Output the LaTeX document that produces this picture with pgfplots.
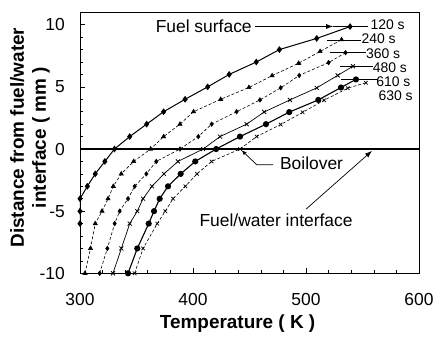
\documentclass[border=0pt]{standalone}
\usepackage{fontspec}
\setmainfont{Liberation Sans}
\usepackage{pgfplots}
\pgfplotsset{compat=1.18}
\usetikzlibrary{arrows.meta}
\begin{document}
\begin{tikzpicture}
\useasboundingbox (-80bp,-65.7bp) rectangle (355bp,273.3bp);
\begin{axis}[
  at={(0,0)}, anchor=south west,
  scale only axis, width=339bp, height=261bp,
  xmin=300, xmax=600, ymin=-10, ymax=11,
  xtick={300,400,500,600}, ytick={-10,-5,0,5,10},
  minor x tick num=4, minor y tick num=4,
  tick align=inside, xtick pos=bottom, ytick pos=left,
  major tick length=5bp, minor tick length=3bp,
  axis line style={line width=0.9bp},
  tick style={black, line width=0.6bp},
  /pgf/number format/assume math mode=true,
  ticklabel style={font=\fontsize{17.5}{20}\selectfont},
  xticklabel style={anchor=base, yshift=-31.7bp},
  yticklabel style={anchor=east, inner sep=0pt, xshift=-15bp},
  xlabel={Temperature ( K )},
  xlabel style={font=\fontsize{19}{22}\selectfont\bfseries, at={(axis description cs:0.465,0)}, anchor=base, yshift=-54.7bp},
  ylabel={Distance from fuel/water\\interface ( mm )},
  ylabel style={font=\fontsize{19}{22}\selectfont\bfseries, align=center, at={(axis description cs:-0.1475,0.52)}, anchor=center, rotate=0},
  clip=true,
]
% zero line
\addplot[black, line width=1.1bp] coordinates {(300,0) (600,0)};
% 120 s
\addplot[black, line width=1bp, mark=diamond*, mark size=2.6bp] coordinates {
(300,-6)(300,-5)(300,-4)(306.5,-3)(313.5,-2)(322,-1)(330.5,0)(344,1)(359,2)(374,3)(393,4)(413,5)(432,6)(456,7)(476.5,8)(509.5,8.9)(539,9.85)};
% 240 s
\addplot[black, line width=0.6bp, densely dashed, mark=triangle*, mark size=2.4bp, mark options={solid}] coordinates {
(304.4,-10)(309.3,-8)(313.5,-6)(319.5,-5)(324.8,-4)(329.5,-3)(336.5,-2)(347.5,-1)(362.5,0)(374,1)(388.5,2)(400.5,3)(424.5,4)(449.5,4.95)(470,5.9)(493.5,6.9)(512.5,7.85)(531.5,8.8)};
% 360 s
\addplot[black, line width=0.6bp, densely dashed, mark=diamond*, mark size=2.2bp, mark options={solid}] coordinates {
(317.4,-10)(324.2,-8)(330.7,-6)(335.1,-5)(342.5,-4)(348.4,-3)(358.7,-2)(367.5,-1)(388.5,0)(404.7,1)(416.5,2)(438.6,3)(459.3,3.95)(477.6,4.92)(494,5.92)(520,6.95)(535,7.75)};
% 480 s
\addplot[black, line width=0.7bp, mark=x, mark size=2.8bp, mark options={line width=0.8bp}] coordinates {
(329.2,-10)(336.6,-8)(344,-6)(350.7,-5)(355.8,-4)(363.7,-3)(374.3,-2)(386.7,-1)(409,0)(423.9,1)(447.5,2)(463,2.98)(485.8,3.95)(509.5,4.92)(528,5.92)(541.6,6.66)};
% 610 s
\addplot[black, line width=1.1bp, mark=*, mark size=2.5bp] coordinates {
(342.5,-10)(350.7,-8)(360.8,-6)(365.5,-5)(370.5,-4)(377.9,-3)(389.1,-2)(402,-1)(420.5,0)(441.6,1)(464.6,2)(485.2,2.97)(510.9,3.95)(531,4.95)(544.2,5.6)};
% 630 s
\addplot[black, line width=0.6bp, densely dashed, mark=x, mark size=2.5bp, mark options={solid, line width=0.7bp}] coordinates {
(348.4,-10)(355.8,-8)(368.4,-6)(375.5,-5)(382.3,-4)(393.2,-3)(403.5,-2)(416.5,-1)(441.6,0)(456.3,1)(477.6,1.97)(497,2.95)(516,3.92)(537,4.9)(553,5.33)};

% annotations
\begin{scope}[font=\fontsize{17.5}{20}\selectfont]
\node[anchor=east, inner sep=1bp] at (axis cs:453,9.86) {Fuel surface};
\draw[line width=0.7bp, -{Latex[length=7bp,width=5bp]}] (axis cs:455,9.86) -- (axis cs:524,9.86);
\draw[line width=0.7bp] (axis cs:524,9.86) -- (axis cs:555,9.86);
\node[anchor=west, inner sep=1bp] at (axis cs:476,-1.13) {Boilover};
\draw[line width=0.7bp, -{Latex[length=5bp,width=4bp]}] (axis cs:471,-1.27) -- (axis cs:456.4,-1.27) -- (axis cs:443,-0.1);
\node[inner sep=1bp] at (axis cs:473.5,-5.7) {Fuel/water interface};
\draw[line width=0.7bp, -{Latex[length=7bp,width=5bp]}] (axis cs:500,-4.84) -- (axis cs:558.4,-0.15);
\end{scope}
\begin{scope}[font=\fontsize{14}{16}\selectfont]
\node[anchor=west, inner sep=0pt] at (axis cs:557,10.0) {120 s};
\draw[line width=0.9bp] (axis cs:518.6,8.76) -- (axis cs:549,8.76);
\node[anchor=west, inner sep=0pt] at (axis cs:549,8.85) {240 s};
\draw[line width=0.9bp] (axis cs:521,7.75) -- (axis cs:553,7.75);
\node[anchor=west, inner sep=0pt] at (axis cs:553,7.7) {360 s};
\draw[line width=0.9bp] (axis cs:530,6.66) -- (axis cs:559,6.66);
\node[anchor=west, inner sep=0pt] at (axis cs:559,6.55) {480 s};
\draw[line width=0.9bp] (axis cs:531,5.6) -- (axis cs:564,5.6);
\node[anchor=west, inner sep=0pt] at (axis cs:562,5.4) {610 s};
\node[anchor=west, inner sep=0pt] at (axis cs:564,4.25) {630 s};
\end{scope}
\end{axis}
\end{tikzpicture}
\end{document}
